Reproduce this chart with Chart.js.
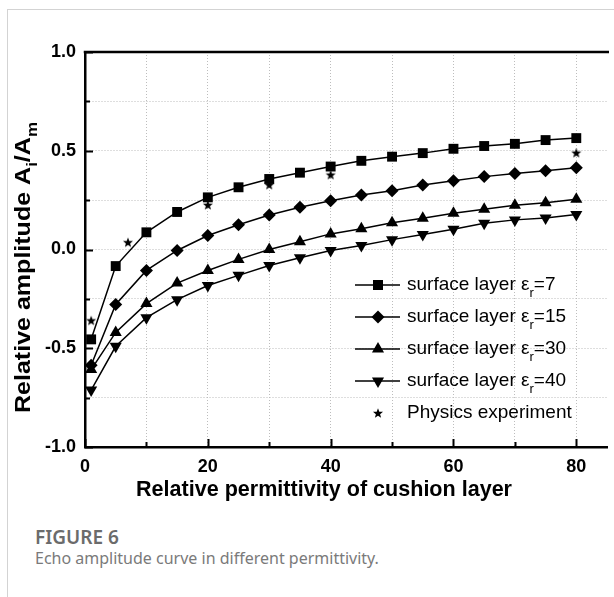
<!DOCTYPE html>
<html>
<head>
<meta charset="utf-8">
<script src="https://cdn.jsdelivr.net/npm/chart.js"></script>
<style>
  html, body { margin: 0; padding: 0; background: #fff; overflow: hidden; }
  body { width: 614px; height: 597px; position: relative; }
  .frame { position: absolute; left: 7px; top: 9px; right: -5px; bottom: -5px; border-top: 1px solid #d3d3d3; border-left: 1px solid #d3d3d3; }
  #chart { position: absolute; left: 0; top: 0; }
  .cap { position: absolute; left: 35px; font-family: "Noto Sans", sans-serif; line-height: 20px; white-space: nowrap; }
  .cap-title { top: 527px; font-size: 19px; font-weight: 600; color: #6b6b6b; }
  .cap-text { top: 548px; font-size: 16px; color: #7a7a7a; }
</style>
</head>
<body>
<div class="frame"></div>
<canvas id="chart" width="614" height="510"></canvas>
<div class="cap cap-title">FIGURE 6</div>
<div class="cap cap-text">Echo amplitude curve in different permittivity.</div>
<script>
// valores
const xVals = [1, 5, 10, 15, 20, 25, 30, 35, 40, 45, 50, 55, 60, 65, 70, 75, 80];
const eps7  = [-0.455, -0.084, 0.087, 0.19, 0.264, 0.315, 0.357, 0.389, 0.42, 0.449, 0.47, 0.488, 0.51, 0.524, 0.535, 0.554, 0.564];
const eps15 = [-0.586, -0.278, -0.106, -0.005, 0.071, 0.125, 0.175, 0.214, 0.247, 0.276, 0.298, 0.327, 0.348, 0.369, 0.385, 0.399, 0.414];
const eps30 = [-0.608, -0.42, -0.274, -0.17, -0.106, -0.05, 0.0, 0.039, 0.079, 0.105, 0.135, 0.158, 0.183, 0.204, 0.224, 0.237, 0.254];
const eps40 = [-0.712, -0.49, -0.345, -0.254, -0.182, -0.131, -0.081, -0.042, -0.005, 0.02, 0.05, 0.076, 0.103, 0.133, 0.15, 0.16, 0.177];
const expX  = [1, 7, 20, 30, 40, 80];
const expY  = [-0.359, 0.037, 0.226, 0.328, 0.379, 0.49];

const xTicks = [0, 10, 20, 30, 40, 50, 60, 70, 80];
const yTicks = [-1, -0.75, -0.5, -0.25, 0, 0.25, 0.5, 0.75, 1];
const legendNames = ['7', '15', '30', '40'];

const FONT = '"Liberation Sans", Arial, sans-serif';

// estrella rellena para los puntos experimentales
const star = document.createElement('canvas');
star.width = 12; star.height = 12;
(function () {
  const c = star.getContext('2d');
  c.fillStyle = '#000';
  c.beginPath();
  for (let i = 0; i < 10; i++) {
    const r = i % 2 === 0 ? 5.3 : 2.2;
    const a = -Math.PI / 2 + i * Math.PI / 5;
    c.lineTo(6 + r * Math.cos(a), 6.5 + r * Math.sin(a));
  }
  c.closePath();
  c.fill();
})();

function pts(ys) { return xVals.map((x, i) => ({ x: x, y: ys[i] })); }

function serie(ys, style, radius, rot) {
  return {
    data: pts(ys),
    borderColor: '#000',
    borderWidth: 1.5,
    tension: 0,
    pointStyle: style,
    pointRadius: radius,
    pointRotation: rot || 0,
    pointBackgroundColor: '#000',
    pointBorderColor: '#000',
    pointBorderWidth: 0
  };
}

function drawMarker(ctx, kind, x, y) {
  ctx.fillStyle = '#000';
  ctx.beginPath();
  if (kind === 0) {
    ctx.rect(x - 5, y - 5, 10, 10);
  } else if (kind === 1) {
    ctx.moveTo(x, y - 6.5); ctx.lineTo(x + 6.5, y); ctx.lineTo(x, y + 6.5); ctx.lineTo(x - 6.5, y);
  } else if (kind === 2) {
    ctx.moveTo(x, y - 7); ctx.lineTo(x + 6.06, y + 3.5); ctx.lineTo(x - 6.06, y + 3.5);
  } else if (kind === 3) {
    ctx.moveTo(x, y + 7); ctx.lineTo(x + 6.06, y - 3.5); ctx.lineTo(x - 6.06, y - 3.5);
  }
  ctx.closePath();
  ctx.fill();
}

// texto con subindices ajustado a un largo dado
function drawParts(ctx, parts, x, y, length, angle, size) {
  ctx.save();
  ctx.translate(x, y);
  ctx.rotate(angle);
  let total = 0;
  parts.forEach(p => {
    ctx.font = 'bold ' + (p.sub ? size * 0.68 : size) + 'px ' + FONT;
    total += ctx.measureText(p.t).width;
  });
  ctx.scale(length / total, 1);
  ctx.fillStyle = '#000';
  ctx.textBaseline = 'alphabetic';
  ctx.textAlign = 'left';
  let cx = 0;
  parts.forEach(p => {
    ctx.font = 'bold ' + (p.sub ? size * 0.68 : size) + 'px ' + FONT;
    ctx.fillText(p.t, cx, p.sub ? size * 0.3 : 0);
    cx += ctx.measureText(p.t).width;
  });
  ctx.restore();
}

const decor = {
  id: 'decor',
  afterDraw(chart) {
    const ctx = chart.ctx, a = chart.chartArea, sx = chart.scales.x, sy = chart.scales.y;
    ctx.save();
    ctx.strokeStyle = '#000';
    ctx.lineWidth = 2.5;
    ctx.beginPath();
    ctx.moveTo(a.left - 1.25, a.top);
    ctx.lineTo(a.right + 2, a.top);
    ctx.stroke();

    // marcas hacia adentro
    ctx.lineWidth = 2;
    ctx.beginPath();
    xTicks.forEach(v => {
      const px = Math.round(sx.getPixelForValue(v)) + 0.5;
      const len = v % 20 === 0 ? 8 : 5;
      ctx.moveTo(px, a.bottom); ctx.lineTo(px, a.bottom - len);
    });
    yTicks.forEach(v => {
      const py = Math.round(sy.getPixelForValue(v)) + 0.5;
      const len = Math.abs(v * 2 - Math.round(v * 2)) < 1e-6 ? 8 : 5;
      ctx.moveTo(a.left, py); ctx.lineTo(a.left + len, py);
    });
    ctx.stroke();

    // titulos de ejes
    drawParts(ctx, [{ t: 'Relative permittivity of cushion layer' }], 136, 496, 376, 0, 22);
    drawParts(ctx, [
      { t: 'Relative amplitude A' }, { t: 'i', sub: true }, { t: '/A' }, { t: 'm', sub: true }
    ], 30, 413, 291, -Math.PI / 2, 22);

    // leyenda
    const rows = [285, 317, 349, 381, 413];
    ctx.textBaseline = 'middle';
    ctx.textAlign = 'left';
    for (let i = 0; i < 4; i++) {
      const y = rows[i];
      ctx.strokeStyle = '#000';
      ctx.lineWidth = 1.5;
      ctx.beginPath(); ctx.moveTo(355, y); ctx.lineTo(400, y); ctx.stroke();
      drawMarker(ctx, i, 378, y);
      ctx.fillStyle = '#000';
      ctx.font = '19px ' + FONT;
      const head = 'surface layer \u03b5';
      ctx.fillText(head, 407, y);
      let cx = 407 + ctx.measureText(head).width;
      ctx.font = '13px ' + FONT;
      ctx.fillText('r', cx, y + 8);
      cx += ctx.measureText('r').width;
      ctx.font = '19px ' + FONT;
      ctx.fillText('=' + legendNames[i], cx, y);
    }
    ctx.drawImage(star, 378 - 6, rows[4] - 6);
    ctx.font = '19px ' + FONT;
    ctx.fillText('Physics experiment', 407, rows[4]);
    ctx.restore();
  }
};

new Chart(document.getElementById('chart'), {
  type: 'line',
  data: {
    datasets: [
      serie(eps7, 'rect', 7),
      serie(eps15, 'rectRot', 6.5),
      serie(eps30, 'triangle', 7),
      serie(eps40, 'triangle', 7, 180),
      {
        data: expX.map((x, i) => ({ x: x, y: expY[i] })),
        showLine: false,
        pointStyle: star,
        pointRadius: 6
      }
    ]
  },
  options: {
    responsive: false,
    animation: false,
    layout: { padding: { top: 52, left: 0, right: 0, bottom: 0 } },
    plugins: { legend: { display: false }, tooltip: { enabled: false } },
    scales: {
      x: {
        type: 'linear',
        min: 0,
        max: 85,
        afterBuildTicks: s => { s.ticks = xTicks.map(v => ({ value: v })); },
        afterFit: s => { s.height = 63; },
        ticks: {
          autoSkip: false,
          maxRotation: 0,
          padding: 9,
          color: '#000',
          font: { family: FONT, size: 18, weight: 'bold' },
          callback: v => (v % 20 === 0 ? String(v) : '')
        },
        grid: { color: '#bdbdbd', lineWidth: 1, drawTicks: false },
        border: { color: '#000', width: 2.5, dash: [1, 2] }
      },
      y: {
        min: -1,
        max: 1,
        afterBuildTicks: s => { s.ticks = yTicks.map(v => ({ value: v })); },
        afterFit: s => { s.width = 85; },
        ticks: {
          autoSkip: false,
          padding: 9,
          color: '#000',
          font: { family: FONT, size: 18, weight: 'bold' },
          callback: v => (Math.abs(v * 2 - Math.round(v * 2)) < 1e-6 ? v.toFixed(1) : '')
        },
        grid: { color: '#bdbdbd', lineWidth: 1, drawTicks: false },
        border: { color: '#000', width: 2.5, dash: [1, 2] }
      }
    }
  },
  plugins: [decor]
});
</script>
</body>
</html>
